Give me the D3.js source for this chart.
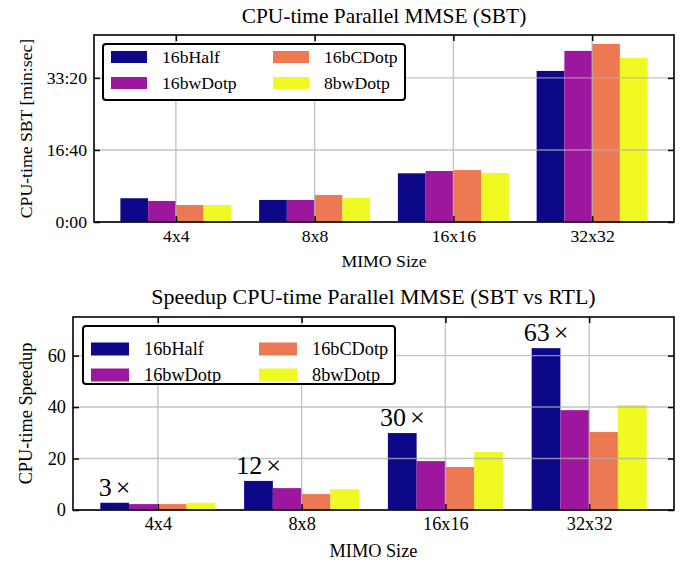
<!DOCTYPE html>
<html><head><meta charset="utf-8">
<script src="https://cdn.jsdelivr.net/npm/d3@7"></script>
<style>body{margin:0;background:#fff}svg{display:block}text{font-family:"Liberation Serif","Times New Roman",serif;fill:#000}</style>
</head><body>
<script>
const categories = ["4x4", "8x8", "16x16", "32x32"];
const seriesNames = ["16bHalf", "16bwDotp", "16bCDotp", "8bwDotp"];
const seriesColors = ["#0d0887", "#9c179e", "#ed7953", "#f0f921"];
// CPU-time in seconds
const cpu16bHalf  = [330, 306, 676, 2097];
const cpu16bwDotp = [292, 306, 708, 2375];
const cpu16bCDotp = [236, 375, 722, 2472];
const cpu8bwDotp  = [236, 336, 681, 2278];
const cpuTicks = [0, 1000, 2000];
// speedup
const sp16bHalf  = [2.8, 11.3, 29.9, 62.9];
const sp16bwDotp = [2.3, 8.5, 19.0, 38.8];
const sp16bCDotp = [2.3, 6.2, 16.7, 30.3];
const sp8bwDotp  = [2.8, 8.1, 22.5, 40.8];
const spTicks = [0, 20, 40, 60];
const spMax = 75;
const annotations = ["3", "12", "30", "63"];

const W = 691, H = 563;
const svg = d3.select("body").append("svg").attr("width", W).attr("height", H);

function fmtTime(s){ const m = Math.floor(s/60), r = Math.round(s%60); return m + ":" + String(r).padStart(2,"0"); }

function drawChart(o){
  const g = svg.append("g");
  const x = d3.scaleLinear().domain([-0.59, categories.length - 1 + 0.59]).range([o.left, o.right]);
  const y = d3.scaleLinear().domain([0, o.ymax]).range([o.bottom, o.top]);
  const fs = o.fs;
  // bars
  o.data.forEach((vals, j) => {
    g.selectAll(null).data(vals).enter().append("rect")
      .attr("x", (d,i) => x(i + (j - 2) * 0.2))
      .attr("width", (d,i) => x(i + (j - 1) * 0.2) - x(i + (j - 2) * 0.2))
      .attr("y", d => y(d))
      .attr("height", d => y(0) - y(d))
      .attr("fill", seriesColors[j]);
  });
  // grid on top
  const grid = g.append("g").attr("stroke", "#b0b0b0").attr("stroke-width", 1.4).attr("opacity", 0.75);
  grid.selectAll(null).data(categories).enter().append("line")
    .attr("x1", (d,i) => x(i)).attr("x2", (d,i) => x(i)).attr("y1", o.top).attr("y2", o.bottom);
  grid.selectAll(null).data(o.ticks).enter().append("line")
    .attr("y1", d => y(d)).attr("y2", d => y(d)).attr("x1", o.left).attr("x2", o.right);
  // axes via d3 axis (inward ticks)
  const axB = d3.axisBottom(x).tickValues(d3.range(categories.length)).tickFormat(i => categories[i]).tickSize(-6).tickPadding(7);
  const axT = d3.axisTop(x).tickValues(d3.range(categories.length)).tickFormat("").tickSize(-6);
  const axL = d3.axisLeft(y).tickValues(o.ticks).tickFormat(o.fmt).tickSize(-6).tickPadding(7);
  const axR = d3.axisRight(y).tickValues(o.ticks).tickFormat("").tickSize(-6);
  const sty = sel => { sel.select(".domain").remove(); sel.selectAll(".tick line").attr("stroke","#000").attr("stroke-width",1.5);
    sel.selectAll(".tick text").style("font-family",'"Liberation Serif",serif').style("font-size", fs + "px").attr("fill","#000"); };
  g.append("g").attr("transform",`translate(0,${o.bottom})`).call(axB).call(sty);
  g.append("g").attr("transform",`translate(0,${o.top})`).call(axT).call(sty);
  g.append("g").attr("transform",`translate(${o.left},0)`).call(axL).call(sty);
  g.append("g").attr("transform",`translate(${o.right},0)`).call(axR).call(sty);
  // frame
  g.append("rect").attr("x", o.left).attr("y", o.top).attr("width", o.right - o.left).attr("height", o.bottom - o.top)
    .attr("fill","none").attr("stroke","#000").attr("stroke-width",1.6);
  // annotations
  if (o.ann) {
    const at = g.selectAll(null).data(o.ann).enter().append("text")
      .attr("x", (d,i) => x(i - 0.3)).attr("y", (d,i) => y(o.data[0][i]) - 7)
      .attr("text-anchor","middle").style("font-size", o.annFs + "px");
    at.append("tspan").text(d => d);
    at.append("tspan").attr("dx", 4).text("×");
  }
  // title & labels
  g.append("text").attr("x", (o.left + o.right)/2).attr("y", o.titleY).attr("text-anchor","middle")
    .style("font-size", o.tfs + "px").text(o.title);
  g.append("text").attr("x", (o.left + o.right)/2).attr("y", o.xlabY).attr("text-anchor","middle")
    .style("font-size", fs + "px").text("MIMO Size");
  g.append("text").attr("transform", `translate(${o.ylabX},${(o.top + o.bottom)/2}) rotate(-90)`).attr("text-anchor","middle")
    .style("font-size", fs + "px").text(o.ylab);
  // legend
  const lg = g.append("g").attr("transform", `translate(${o.left + o.lg.dx},${o.top + o.lg.dy})`);
  lg.append("rect").attr("width", o.lg.w).attr("height", o.lg.h).attr("rx", 3).attr("fill","#fff").attr("stroke","#000").attr("stroke-width",2);
  seriesNames.forEach((s, j) => {
    const col = j >= 2 ? 1 : 0, row = j % 2;
    const sx = 8 + col * o.lg.colW, sy = o.lg.row0 + row * o.lg.rowH;
    lg.append("rect").attr("x", sx).attr("y", sy - o.lg.sh/2).attr("width", o.lg.sw).attr("height", o.lg.sh).attr("fill", seriesColors[j]);
    lg.append("text").attr("x", sx + o.lg.sw + 15).attr("y", sy).attr("dy","0.34em").style("font-size", fs + "px").text(s);
  });
}

drawChart({
  left: 94, right: 674, top: 35, bottom: 222,
  ymax: d3.max([cpu16bHalf, cpu16bwDotp, cpu16bCDotp, cpu8bwDotp].flat()) * 1.05,
  data: [cpu16bHalf, cpu16bwDotp, cpu16bCDotp, cpu8bwDotp],
  ticks: cpuTicks, fmt: fmtTime, fs: 17.7, tfs: 21.4,
  title: "CPU-time Parallel MMSE (SBT)", titleY: 23, xlabY: 267, ylabX: 31.5,
  ylab: "CPU-time SBT [min:sec]",
  lg: {dx: 9, dy: 9, w: 302, h: 56, colW: 162, row0: 13, rowH: 26, sw: 36, sh: 12}
});
drawChart({
  left: 73, right: 674, top: 317, bottom: 510,
  ymax: spMax,
  data: [sp16bHalf, sp16bwDotp, sp16bCDotp, sp8bwDotp],
  ticks: spTicks, fmt: d3.format("d"), fs: 18.3, tfs: 22,
  title: "Speedup CPU-time Parallel MMSE (SBT vs RTL)", titleY: 304, xlabY: 557, ylabX: 31.5,
  ylab: "CPU-time Speedup",
  ann: annotations, annFs: 26,
  lg: {dx: 10, dy: 9, w: 312, h: 58, colW: 168, row0: 23, rowH: 26, sw: 38, sh: 13}
});
</script>
</body></html>
